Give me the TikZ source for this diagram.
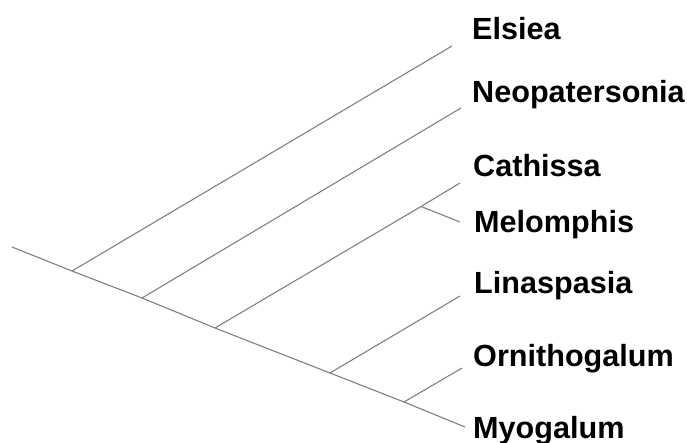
\documentclass[tikz,border=0pt]{standalone}
\usepackage{fontspec}
\setmainfont{Liberation Sans}
\begin{document}
\begin{tikzpicture}[x=1pt,y=-1pt,
  branch/.style={draw=black!50, line width=1.1pt},
  taxon/.style={anchor=base west, inner sep=0pt, font=\fontsize{30.6}{30.6}\selectfont\bfseries}]
\useasboundingbox (0,0) rectangle (687,443);
% internal points of the tree
\coordinate (root) at (12,247);
\coordinate (n1) at (72,271);
\coordinate (n2) at (142,298);
\coordinate (n3) at (215,328);
\coordinate (n4) at (330,373);
\coordinate (n5) at (404,402);
\coordinate (n6) at (421,206.5);
% branch tips
\coordinate (tElsiea) at (452,46);
\coordinate (tNeo) at (461,108);
\coordinate (tCath) at (460,183);
\coordinate (tMelo) at (460,222);
\coordinate (tLina) at (460,296);
\coordinate (tOrni) at (462,368);
\coordinate (tMyo) at (465,427);
% taxon labels
\node[taxon] (Elsiea) at (472,40) {Elsiea};
\node[taxon] (Neopatersonia) at (472,103) {Neopatersonia};
\node[taxon] (Cathissa) at (473,177) {Cathissa};
\node[taxon] (Melomphis) at (474,233) {Melomphis};
\node[taxon] (Linaspasia) at (474,294) {Linaspasia};
\node[taxon] (Ornithogalum) at (473,366) {Ornithogalum};
\node[taxon] (Myogalum) at (473,438) {Myogalum};
% branches
\draw[branch] (root) -- (n1) -- (n2) -- (n3) -- (n4) -- (n5) -- (tMyo);
\draw[branch] (n1) -- (tElsiea);
\draw[branch] (n2) -- (tNeo);
\draw[branch] (n3) -- (n6) -- (tCath);
\draw[branch] (n6) -- (tMelo);
\draw[branch] (n4) -- (tLina);
\draw[branch] (n5) -- (tOrni);
\end{tikzpicture}
\end{document}
